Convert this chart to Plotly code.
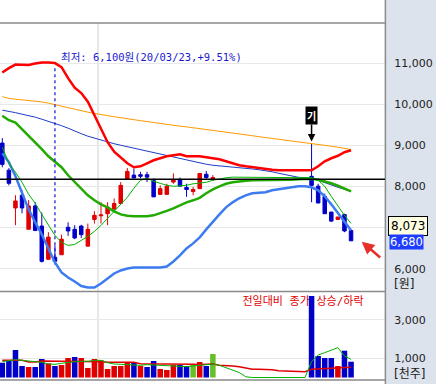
import plotly.graph_objects as go

# ---------------- data ----------------
days = list(range(54))
open_ = [9060, 8400, 7480, 7790, 6960, 7530, 7040, 6230, 6280, 6340,
         7010, 6960, 7040, 6550, 7200, 7290, 7340, 7450, 7590, 8180,
         8280, 8290, 8290, 8150, 7810, 7810, 8110, 8170, 7980, 7880,
         7950, 8300, 8180] + [None] * 14 + [8250, 8010, 7760, 7380, 7200, 7320, 6930]
high = [9180, 8450, 7790, 7910, 7670, 7620, 7370, 6890, 6570, 6830,
        7130, 7060, 7070, 7100, 7400, 7620, 7620, 7710, 8110, 8450,
        8440, 8360, 8360, 8200, 8030, 8070, 8320, 8220, 8070, 7990,
        8320, 8380, 8280] + [None] * 14 + [9050, 8070, 7830, 7380, 7260, 7340, 6930]
low = [8470, 8030, 7060, 7350, 6960, 6930, 6150, 6230, 6100, 6340,
       6800, 6720, 6750, 6550, 7100, 7100, 7060, 7450, 7590, 8180,
       8210, 8200, 8110, 7750, 7810, 7810, 8070, 8010, 7750, 7790,
       7950, 8170, 8140] + [None] * 14 + [7620, 7600, 7340, 7140, 7200, 6890, 6680]
close = [8540, 8080, 7650, 7480, 7530, 6930, 6180, 6770, 6180, 6720,
         6920, 6750, 6830, 6960, 7300, 7310, 7500, 7590, 8030, 8370,
         8210, 8250, 8230, 7750, 7950, 8010, 8170, 8010, 7930, 7930,
         8320, 8220, 8220] + [None] * 14 + [8030, 7600, 7340, 7160, 7260, 6920, 6680]
prev_close = 8800

volume = [771, 911, 1432, 599, 547, 547, 964, 738, 599, 651,
          1016, 1068, 1016, 495, 964, 894, 443, 599, 599, 807,
          807, 599, 547, 859, 443, 391, 651, 651, 599, 651,
          807, 599, 1224] + [0] * 14 + [4245, 1120, 1016, 1016, 599, 1396, 823]
vol_ma5 = [825, 877, 929, 894, 859, 825, 790, 703, 686, 738,
           790, 825, 842, 842, 894, 894, 773, 703, 686, 668,
           634, 634, 668, 651, 616, 599, 599, 564, 564, 599,
           634, 686, 700, 634, 510, 400, 260, 40, 0, 0,
           0, 0, 0, 0, 0, 0, 0, 830, 1172, 1293, 1432, 1554, 1120, 946]
vol_ma20 = [894, 894, 894, 894, 807, 807, 859, 859, 859, 859,
            825, 825, 825, 825, 825, 825, 790, 790, 790, 790,
            790, 720, 720, 720, 720, 686, 686, 686, 686, 686,
            680, 690, 703, 640, 600, 599, 560, 480, 430, 425,
            425, 400, 350, 339, 339, 320, 304, 430, 450, 465, 480, 490, 510, 530]

ma5 = [8959, 8568, 8349, 8105, 7812, 7593, 7324, 7056, 6812, 6641,
       6568, 6593, 6690, 6788, 6910, 7056, 7227, 7398, 7593, 7739,
       7959, 8154, 8202, 8129, 8080, 8032, 8007, 8020, 8032, 8068,
       8080, 8105, 8154, 8190, 8215, 8230, 8230, 8230, 8230, 8230,
       8230, 8230, 8230, 8230, 8230, 8230, 8230, 8215, 8154, 8007, 7763, 7520, 7300, 7105]
ma20 = [9727, 9617, 9556, 9398, 9227, 9080, 8910, 8739, 8593, 8471,
        8276, 8105, 7934, 7788, 7666, 7568, 7495, 7398, 7324, 7288,
        7276, 7276, 7276, 7300, 7349, 7410, 7471, 7544, 7617, 7666,
        7727, 7837, 7934, 8007, 8068, 8105, 8129, 8141, 8154, 8154,
        8154, 8154, 8154, 8154, 8166, 8178, 8190, 8190, 8166, 8129, 8080, 8020, 7959, 7885]
ma60 = [9861, 9837, 9800, 9763, 9732, 9690, 9641, 9593, 9544, 9483,
        9422, 9349, 9288, 9227, 9178, 9129, 9080, 9044, 9007, 8971,
        8934, 8898, 8861, 8824, 8788, 8751, 8715, 8678, 8641, 8605,
        8568, 8544, 8520, 8507, 8495, 8483, 8471, 8446, 8429, 8410,
        8390, 8361, 8324, 8288, 8251, 8227, 8215, 8202, 8154, 8093, 8032, 7983, 7934, 7885]
ma120 = [10190, 10146, 10129, 10112, 10100, 10093, 10061, 10032, 9995, 9959,
         9910, 9873, 9837, 9812, 9783, 9763, 9727, 9702, 9683, 9659,
         9629, 9605, 9580, 9556, 9532, 9512, 9490, 9471, 9454, 9434,
         9405, 9385, 9368, 9349, 9324, 9300, 9276, 9259, 9239, 9215,
         9195, 9178, 9154, 9129, 9105, 9085, 9073, 9061, 9032, 9007, 8983, 8959, 8929, 8902]
bb_upper = [10776, 10885, 10971, 10966, 10963, 10995, 11019, 11019, 11007, 10910,
            10641, 10410, 10276, 10068, 9739, 9398, 9080, 8849, 8715, 8568,
            8471, 8495, 8568, 8641, 8690, 8739, 8763, 8788, 8739, 8739,
            8739, 8715, 8690, 8666, 8617, 8568, 8520, 8495, 8471, 8446,
            8434, 8410, 8398, 8398, 8398, 8398, 8385, 8398, 8495, 8617, 8690, 8751, 8837, 8885]
bb_lower = [8812, 8593, 8251, 7837, 7446, 7129, 6837, 6495, 6154, 5910,
            5788, 5690, 5580, 5544, 5544, 5641, 5763, 5885, 5959, 6007,
            6032, 6032, 6032, 6032, 6032, 6056, 6178, 6324, 6495, 6617,
            6763, 6959, 7154, 7324, 7495, 7617, 7715, 7788, 7837, 7849,
            7861, 7910, 7934, 7959, 7983, 8007, 8007, 7983, 7910, 7763, 7568, 7349, 7129, 6934]

ref_price = 8178
low_day = 8
low_label = "최저: 6,100원(20/03/23,+9.51%)"
info_price = 8073
relist_day = 47
month_start_day = 15
price_ticks = [6000, 7000, 8000, 9000, 10000, 11000]
price_hidden_tick = 7000  # covered by the info box in the original
volume_ticks = [1000, 3000]
legend_label = "전일대비 종가 상승/하락"

# ---------------- styles ----------------
RED = "#E00000"
BLUE = "#0000C8"
VGREEN = "#66BE28"
GRID = "#E8E8E8"
BORDER = "#8A8A8A"
KFONT = "DejaVu Sans Mono, Noto Sans CJK KR"
NFONT = "DejaVu Sans"

fig = go.Figure()

cx = [d for d in days if close[d] is not None]
fig.add_trace(go.Candlestick(
    x=cx, open=[open_[d] for d in cx], high=[high[d] for d in cx],
    low=[low[d] for d in cx], close=[close[d] for d in cx],
    increasing=dict(line=dict(color=RED, width=1), fillcolor=RED),
    decreasing=dict(line=dict(color=BLUE, width=1), fillcolor=BLUE),
    whiskerwidth=0, xaxis="x", yaxis="y", hoverinfo="skip"))

lines = [
    (ma120, "#FF9900", 1),
    (ma60, "#1E3CC8", 1),
    (bb_upper, "#FF0000", 2.5),
    (bb_lower, "#3C7BF0", 2.5),
    (ma20, "#22AA00", 2.5),
    (ma5, "#00B400", 1),
]
for vals, col, w in lines:
    fig.add_trace(go.Scatter(x=days, y=vals, mode="lines",
                             line=dict(color=col, width=w),
                             xaxis="x", yaxis="y", hoverinfo="skip"))

# volume colours: close vs previous close
vcols = []
last = prev_close
for d in days:
    c = close[d]
    if c is None:
        vcols.append(VGREEN)
        continue
    vcols.append(RED if c > last else (BLUE if c < last else VGREEN))
    last = c

# legend text on the base volume subplot (below bars)
fig.add_trace(go.Scatter(x=[36.5], y=[3930], mode="text", text=[legend_label],
                         textposition="middle right",
                         textfont=dict(family=KFONT, size=11, color=RED),
                         xaxis="x2", yaxis="y2", hoverinfo="skip", cliponaxis=False))

fig.add_trace(go.Bar(x=days, y=volume, marker=dict(color=vcols, line=dict(width=0)),
                     xaxis="x2", yaxis="y3", hoverinfo="skip"))
fig.add_trace(go.Scatter(x=days, y=vol_ma20, mode="lines", line=dict(color=RED, width=1.5),
                         xaxis="x2", yaxis="y3", hoverinfo="skip"))
fig.add_trace(go.Scatter(x=days, y=vol_ma5, mode="lines", line=dict(color="#00B400", width=1),
                         xaxis="x2", yaxis="y3", hoverinfo="skip"))

xr = [-0.35, 58.16]
pr = [5446, 11983]
vr = [-130, 4453]
H = 357.0

def py(p):  # pixel row -> paper y
    return (380 - p) / H

price_ticktext = ["" if v == price_hidden_tick else f"{v:,}" for v in price_ticks]

yfont = dict(family=NFONT, size=11, color="#222222")
fig.update_layout(
    width=436, height=384, margin=dict(l=0, r=51, t=23, b=4, autoexpand=False),
    paper_bgcolor="#DCE3EC", plot_bgcolor="white", showlegend=False,
    boxgap=0.24, bargap=0.16,
    xaxis=dict(domain=[0, 1], range=xr, anchor="y", tickvals=[month_start_day - 0.5],
               showticklabels=False, ticks="", showgrid=True, gridcolor=GRID, gridwidth=1.5,
               zeroline=False, rangeslider=dict(visible=False), fixedrange=True),
    xaxis2=dict(domain=[0, 1], range=xr, anchor="y2", tickvals=[month_start_day - 0.5],
                showticklabels=False, ticks="", showgrid=True, gridcolor=GRID, gridwidth=1.5,
                zeroline=False),
    yaxis=dict(domain=[py(291.5), 1], range=pr, side="right", tickvals=price_ticks,
               ticktext=price_ticktext, showgrid=True, gridcolor=GRID, zeroline=False,
               ticks="outside", ticklen=6, tickcolor="rgba(0,0,0,0)", tickfont=yfont),
    yaxis2=dict(domain=[0, py(292)], range=vr, side="right", tickvals=volume_ticks,
                tickformat=",", showgrid=True, gridcolor=GRID, zeroline=False,
                ticks="outside", ticklen=6, tickcolor="rgba(0,0,0,0)", tickfont=yfont,
                anchor="x2"),
    yaxis3=dict(overlaying="y2", range=vr, visible=False, anchor="x2"),
)

shapes = [
    # white strips above / below the chart area
    dict(type="rect", xref="paper", yref="paper", x0=0, x1=1, y0=1, y1=py(0),
         fillcolor="white", line=dict(width=0), layer="below"),
    dict(type="rect", xref="paper", yref="paper", x0=0, x1=1, y0=py(384), y1=0,
         fillcolor="white", line=dict(width=0), layer="below"),
    # borders
    dict(type="line", xref="paper", yref="paper", x0=0, x1=1, y0=1, y1=1,
         line=dict(color=BORDER, width=1.5)),
    dict(type="line", xref="paper", yref="paper", x0=0, x1=1, y0=py(291.5), y1=py(291.5),
         line=dict(color=BORDER, width=1.5)),
    dict(type="line", xref="paper", yref="paper", x0=0, x1=1, y0=py(380), y1=py(380),
         line=dict(color=BORDER, width=1.5)),
    dict(type="line", xref="paper", yref="paper", x0=1.001, x1=1.001, y0=py(384), y1=py(0),
         line=dict(color=BORDER, width=1.5)),
    # reference price line
    dict(type="line", xref="paper", yref="y", x0=0, x1=1, y0=ref_price, y1=ref_price,
         line=dict(color="black", width=1.5)),
    # dashed line to the lowest candle
    dict(type="line", xref="x", yref="y", x0=low_day, x1=low_day,
         y0=max(open_[low_day], close[low_day]), y1=10930,
         line=dict(color="#1010D0", width=1.2, dash="3px,3px")),
]
fig.update_layout(shapes=shapes)

ann = [
    dict(x=low_day, y=py(57.5), xref="x", yref="paper", xanchor="left", yanchor="middle",
         xshift=4, text=low_label, showarrow=False,
         font=dict(family=KFONT, size=10.5, color="#1A1ACD")),
    dict(x=relist_day, y=high[relist_day], xref="x", yref="y", text="<b>기</b>",
         showarrow=True, arrowhead=2, arrowsize=1, arrowwidth=1.5, arrowcolor="black",
         ax=0, ay=-28, standoff=2, bgcolor="black", borderpad=1,
         font=dict(family="Noto Sans CJK KR", size=10, color="white")),
    dict(x=361.7 / 385, y=py(241.7), xref="paper", yref="paper", text="", showarrow=True,
         arrowhead=2, arrowsize=1, arrowwidth=2.5, arrowcolor="#E8302A", ax=20, ay=17),
    dict(x=388 / 385, y=py(226), xref="paper", yref="paper", xanchor="left", yanchor="middle",
         text=f"{info_price:,}", showarrow=False, bgcolor="#FFFFE1", bordercolor="black",
         borderwidth=1, borderpad=2, font=dict(family=NFONT, size=12, color="black")),
    dict(x=389 / 385, y=close[-1], xref="paper", yref="y", xanchor="left", yanchor="middle",
         yshift=-1.5, text=f"{close[-1]:,}", showarrow=False, bgcolor="#1E3CFF", borderpad=0,
         font=dict(family=NFONT, size=11.5, color="white")),
    dict(x=392 / 385, y=py(284), xref="paper", yref="paper", xanchor="left", yanchor="middle",
         text="[원]", showarrow=False, font=dict(family=NFONT + ", Noto Sans CJK KR", size=12, color="#222222")),
    dict(x=392 / 385, y=py(373), xref="paper", yref="paper", xanchor="left", yanchor="middle",
         text="[천주]", showarrow=False, font=dict(family=NFONT + ", Noto Sans CJK KR", size=12, color="#222222")),
]
fig.update_layout(annotations=ann)

fig.write_html("out.html", config={"displayModeBar": False},
               post_script="document.body.style.margin='0';document.body.style.overflow='hidden';")
